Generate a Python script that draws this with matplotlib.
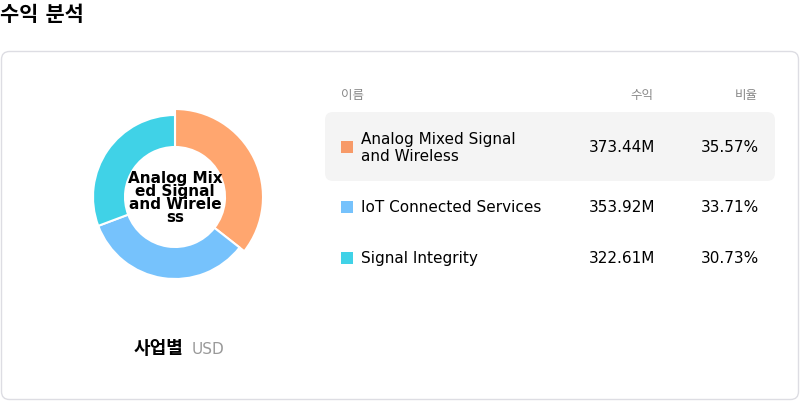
import matplotlib
matplotlib.use("Agg")
import matplotlib.pyplot as plt
from matplotlib.patches import FancyBboxPatch

plt.rcParams['font.family'] = ['DejaVu Sans', 'Noto Sans CJK KR']

names = ["Analog Mixed Signal\nand Wireless", "IoT Connected Services", "Signal Integrity"]
revenue = [373.44, 353.92, 322.61]
shares = [35.57, 33.71, 30.73]
colors = ["#ffa66f", "#76c2fc", "#40d2e7"]
sq_colors = ["#f79a68", "#76c2fc", "#40d2e7"]

W, H = 800, 402
fig = plt.figure(figsize=(8, 4.02), dpi=100)
ax = fig.add_axes([0, 0, 1, 1])
ax.set_xlim(0, W); ax.set_ylim(H, 0); ax.axis('off')

ax.text(0, 15, "수익 분석", fontsize=15, fontweight='bold', va='center', ha='left')
ax.add_patch(FancyBboxPatch((1.5, 52.5), 797, 348, boxstyle="round,pad=0,rounding_size=8",
                            fc='white', ec='#dddde3', lw=1))

# table
ax.text(341, 95, "이름", fontsize=9, color='#888888', va='center')
ax.text(653, 95, "수익", fontsize=9, color='#888888', va='center', ha='right')
ax.text(758, 95, "비율", fontsize=9, color='#888888', va='center', ha='right')
ax.add_patch(FancyBboxPatch((325, 113), 450, 69, boxstyle="round,pad=0,rounding_size=8",
                            fc='#f4f4f4', ec='none'))
rows_y = [148, 208, 259]
for n, r, s, c, y in zip(names, revenue, shares, sq_colors, rows_y):
    ax.add_patch(plt.Rectangle((341, y - 6), 12, 12, fc=c, ec='none'))
    ax.text(361, y, n, fontsize=11, va='center', ha='left', linespacing=1.1)
    ax.text(655, y, f"{r:.2f}M", fontsize=11, va='center', ha='right')
    ax.text(759, y, f"{s:.2f}%", fontsize=11, va='center', ha='right')

ax.text(183, 349, "사업별", fontsize=13, fontweight='bold', va='center', ha='right')
ax.text(192, 350, "USD", fontsize=11, color='#999999', va='center', ha='left')

# donut
R = 82
half = 1.1 * R
pax = fig.add_axes([(175 - half) / W, (H - 198 - half) / H, 2 * half / W, 2 * half / H])
wedges, _ = pax.pie(shares, colors=colors, startangle=90, counterclock=False,
                    wedgeprops=dict(width=32 / R, edgecolor='white', linewidth=1.5))
wedges[0].set_radius(88 / R)
wedges[0].set_width(38 / R)
pax.set_xlim(-1.1, 1.1); pax.set_ylim(-1.1, 1.1); pax.set_aspect('equal')
pax.text(0, 0, "Analog Mix\ned Signal\nand Wirele\nss", fontsize=11, fontweight='bold',
         ha='center', va='center', linespacing=0.85)

fig.savefig("out.png", dpi=100)
